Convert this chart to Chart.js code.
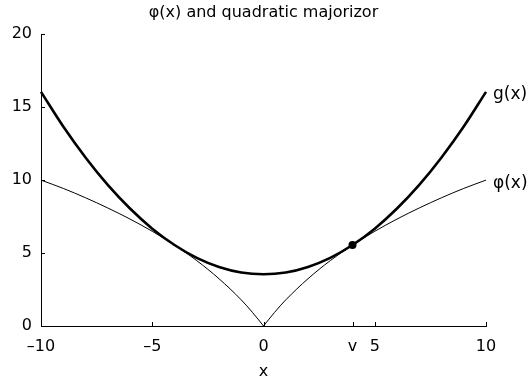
<!DOCTYPE html>
<html>
<head>
<meta charset="utf-8">
<script src="https://cdn.jsdelivr.net/npm/chart.js@4/dist/chart.umd.min.js"></script>
<style>
  html, body { margin: 0; padding: 0; background: #fff; }
</style>
</head>
<body>
<canvas id="c" width="529" height="383"></canvas>
<script>
// phi(x): sampled values of the penalty curve
const phiX = [-10, -9, -8, -7, -6, -5, -4, -3, -2, -1, -0.5, 0, 0.5, 1, 2, 3, 4, 5, 6, 7, 8, 9, 10];
const phiY = [10.0, 9.43, 8.79, 8.09, 7.33, 6.49, 5.55, 4.48, 3.24, 1.79, 0.94, 0, 0.94, 1.79, 3.24, 4.48, 5.55, 6.49, 7.33, 8.09, 8.79, 9.43, 10.0];

// g(x): quadratic majorizor touching phi at x = v
const gX = [-10, -9, -8, -7, -6, -5, -4, -3, -2, -1, 0, 1, 2, 3, 4, 5, 6, 7, 8, 9, 10];
const gY = [16.05, 13.67, 11.55, 9.67, 8.05, 6.67, 5.55, 4.67, 4.05, 3.67, 3.55, 3.67, 4.05, 4.67, 5.55, 6.67, 8.05, 9.67, 11.55, 13.67, 16.05];

// touching point (v, phi(v))
const touchX = [4];
const touchY = [5.55];

// axis ticks
const xTickValues = [-10, -5, 0, 4, 5, 10];
const xTickLabels = ['\u201310', '\u20135', '0', 'v', '5', '10'];
const yTickValues = [0, 5, 10, 15, 20];
const yTickLabels = ['0', '5', '10', '15', '20'];

const FONT = 'DejaVu Sans';

const toPoints = (xs, ys) => xs.map((x, i) => ({ x, y: ys[i] }));
const phiPts = toPoints(phiX, phiY);
const phiLeft = phiPts.filter(p => p.x <= 0);
const phiRight = phiPts.filter(p => p.x >= 0);

// short tick marks pointing into the plot area
const inwardTicks = {
  id: 'inwardTicks',
  afterDraw(chart) {
    const { ctx, chartArea: a, scales: { x, y } } = chart;
    ctx.save();
    ctx.strokeStyle = '#000';
    ctx.lineWidth = 1;
    ctx.beginPath();
    xTickValues.forEach(v => {
      const px = Math.round(x.getPixelForValue(v)) + 0.5;
      ctx.moveTo(px, a.bottom);
      ctx.lineTo(px, a.bottom - 4);
    });
    yTickValues.forEach(v => {
      const py = Math.round(y.getPixelForValue(v)) + 0.5;
      ctx.moveTo(a.left, py);
      ctx.lineTo(a.left + 4, py);
    });
    ctx.stroke();
    ctx.restore();
  }
};

// name of each curve written just past its last point
const endLabels = {
  id: 'endLabels',
  afterDatasetsDraw(chart) {
    const { ctx } = chart;
    ctx.save();
    ctx.fillStyle = '#000';
    ctx.font = '17px "' + FONT + '"';
    ctx.textBaseline = 'middle';
    ctx.textAlign = 'left';
    chart.data.datasets.forEach((ds, i) => {
      if (!ds.endLabel) return;
      const pts = chart.getDatasetMeta(i).data;
      const last = pts[pts.length - 1];
      ctx.fillText(ds.endLabel, last.x + 7, last.y + 3);
    });
    ctx.restore();
  }
};

new Chart(document.getElementById('c'), {
  type: 'line',
  data: {
    datasets: [
      { data: phiLeft, borderColor: '#000', borderWidth: 1, pointRadius: 0, cubicInterpolationMode: 'monotone', clip: false },
      { data: phiRight, endLabel: '\u03c6(x)', borderColor: '#000', borderWidth: 1, pointRadius: 0, cubicInterpolationMode: 'monotone', clip: false },
      { data: toPoints(gX, gY), endLabel: 'g(x)', borderColor: '#000', borderWidth: 2.6, pointRadius: 0, cubicInterpolationMode: 'monotone', clip: false },
      { data: toPoints(touchX, touchY), showLine: false, pointRadius: 4, pointBackgroundColor: '#000', pointBorderColor: '#000', borderWidth: 0, clip: false }
    ]
  },
  options: {
    responsive: false,
    animation: false,
    devicePixelRatio: 1,
    layout: { padding: { left: 0, right: 43, top: 0, bottom: 0 } },
    plugins: {
      legend: { display: false },
      tooltip: { enabled: false },
      title: {
        display: true,
        fullSize: false,
        text: '\u03c6(x) and quadratic majorizor',
        color: '#000',
        font: { family: FONT, size: 16, weight: 'normal', lineHeight: 1.2 },
        padding: { top: 3, bottom: 12 }
      }
    },
    scales: {
      x: {
        type: 'linear',
        min: -10,
        max: 10,
        afterFit: s => { s.height = 57; },
        afterBuildTicks: s => { s.ticks = xTickValues.map(v => ({ value: v })); },
        grid: { display: false, drawTicks: false },
        border: { display: true, color: '#000', width: 1 },
        ticks: {
          autoSkip: false,
          maxRotation: 0,
          padding: 11,
          color: '#000',
          font: { family: FONT, size: 16 },
          callback: v => xTickLabels[xTickValues.indexOf(v)]
        },
        title: {
          display: true,
          text: 'x',
          color: '#000',
          font: { family: FONT, size: 16, lineHeight: 1.2 },
          padding: { top: 0, bottom: 2 }
        }
      },
      y: {
        type: 'linear',
        min: 0,
        max: 20,
        afterFit: s => { s.width = 41; },
        afterBuildTicks: s => { s.ticks = yTickValues.map(v => ({ value: v })); },
        grid: { display: false, drawTicks: false },
        border: { display: true, color: '#000', width: 1 },
        ticks: {
          autoSkip: false,
          padding: 9,
          color: '#000',
          font: { family: FONT, size: 16 },
          callback: v => yTickLabels[yTickValues.indexOf(v)]
        }
      }
    }
  },
  plugins: [inwardTicks, endLabels]
});
</script>
</body>
</html>
